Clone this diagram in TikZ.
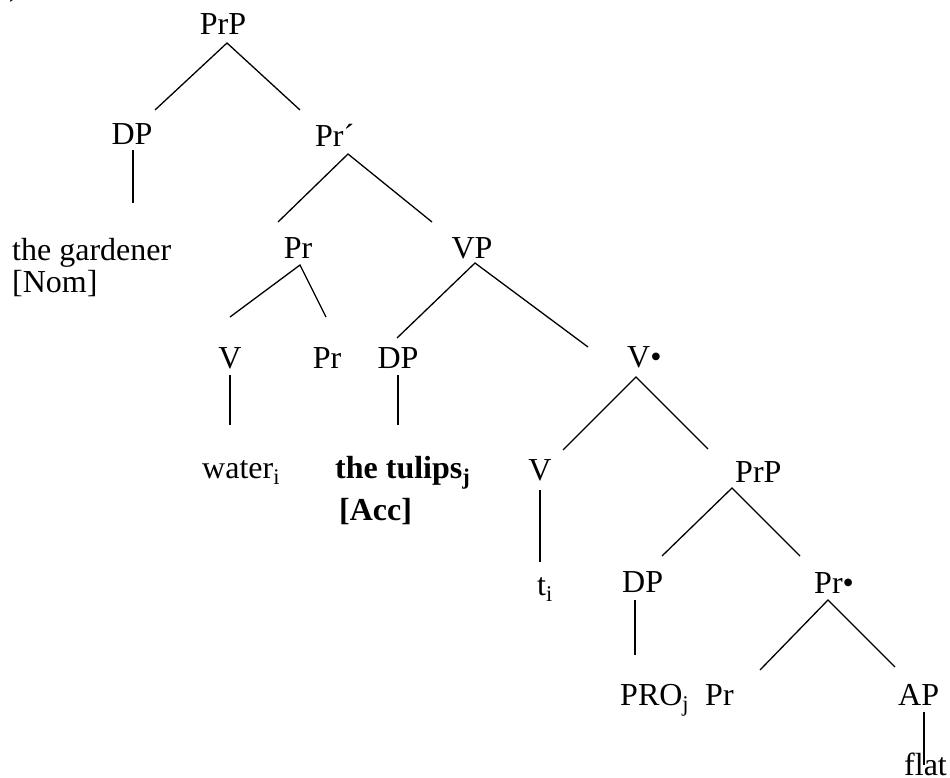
\documentclass[tikz,border=0pt]{standalone}
\usepackage{fontspec}
\setmainfont{Liberation Serif}
\begin{document}
\begin{tikzpicture}[x=1pt,y=-1pt,
  lab/.style={inner sep=0pt,anchor=base,font=\fontsize{32}{36}\selectfont},
  labw/.style={inner sep=0pt,anchor=base west,font=\fontsize{32}{36}\selectfont},
  edge/.style={line width=1.3pt}]
\useasboundingbox (0,0) rectangle (950,778);
% partial label at the top-left corner
\node[labw] (ex) at (9,-4) {)};
% level 0
\node[lab] (prp) at (223,35) {PrP};
% level 1
\node[lab] (dp1) at (132,145) {DP};
\node[labw] (prbar) at (315,147) {Pr´};
\node[labw] (gard) at (12,260) {the gardener};
\node[labw] (nom) at (12,292) {[Nom]};
% level 2
\node[lab] (pr2) at (298,258) {Pr};
\node[lab] (vp) at (472,258) {VP};
% level 3
\node[lab] (v3) at (230,368) {V};
\node[lab] (pr3) at (327,368) {Pr};
\node[lab] (dp3) at (398,368) {DP};
\node[labw] (vbar) at (627,367) {V•};
\node[labw] (water) at (202,478) {water\textsubscript{i}};
\node[labw] (tulips) at (335,478) {\bfseries the tulips\textsubscript{j}};
\node[labw] (acc) at (339,520) {\bfseries [Acc]};
% level 4
\node[lab] (v4) at (540,480) {V};
\node[labw] (prp4) at (735,482) {PrP};
\node[labw] (ti) at (537,595) {t\textsubscript{i}};
\node[labw] (dp5) at (622,592) {DP};
\node[labw] (prbul) at (814,593) {Pr•};
\node[labw] (pro) at (620,705) {PRO\textsubscript{j}};
\node[labw] (pr6) at (705,705) {Pr};
\node[labw] (ap) at (898,705) {AP};
\node[labw] (flat) at (904,775) {flat};
% connector end points
\coordinate (prp-a) at (227,43);
\coordinate (dp1-t) at (155,110);
\coordinate (prbar-t) at (300,110);
\coordinate (dp1-b) at (133,150);
\coordinate (gard-t) at (133,203);
\coordinate (prbar-a) at (348,154);
\coordinate (pr2-t) at (278,222);
\coordinate (vp-t) at (432,222);
\coordinate (pr2-a) at (300,265);
\coordinate (v3-t) at (230,317);
\coordinate (pr3-t) at (326,317);
\coordinate (vp-a) at (475,263);
\coordinate (dp3-t) at (397,338);
\coordinate (vbar-t) at (588,347);
\coordinate (v3-b) at (230,375);
\coordinate (water-t) at (230,425);
\coordinate (dp3-b) at (398,375);
\coordinate (tulips-t) at (398,425);
\coordinate (vbar-a) at (636,377);
\coordinate (v4-t) at (563,450);
\coordinate (prp4-t) at (708,449);
\coordinate (v4-b) at (540,490);
\coordinate (ti-t) at (540,562);
\coordinate (prp4-a) at (732,488);
\coordinate (dp5-t) at (662,556);
\coordinate (prbul-t) at (800,556);
\coordinate (dp5-b) at (635,600);
\coordinate (pro-t) at (635,655);
\coordinate (prbul-a) at (828,600);
\coordinate (pr6-t) at (760,670);
\coordinate (ap-t) at (895,667);
\coordinate (ap-b) at (924,712);
\coordinate (flat-t) at (924,765);
% connectors
\draw[edge] (dp1-t) -- (prp-a) -- (prbar-t);
\draw[edge] (dp1-b) -- (gard-t);
\draw[edge] (pr2-t) -- (prbar-a) -- (vp-t);
\draw[edge] (v3-t) -- (pr2-a) -- (pr3-t);
\draw[edge] (dp3-t) -- (vp-a) -- (vbar-t);
\draw[edge] (v3-b) -- (water-t);
\draw[edge] (dp3-b) -- (tulips-t);
\draw[edge] (v4-t) -- (vbar-a) -- (prp4-t);
\draw[edge] (v4-b) -- (ti-t);
\draw[edge] (dp5-t) -- (prp4-a) -- (prbul-t);
\draw[edge] (dp5-b) -- (pro-t);
\draw[edge] (pr6-t) -- (prbul-a) -- (ap-t);
\draw[edge] (ap-b) -- (flat-t);
\end{tikzpicture}
\end{document}
